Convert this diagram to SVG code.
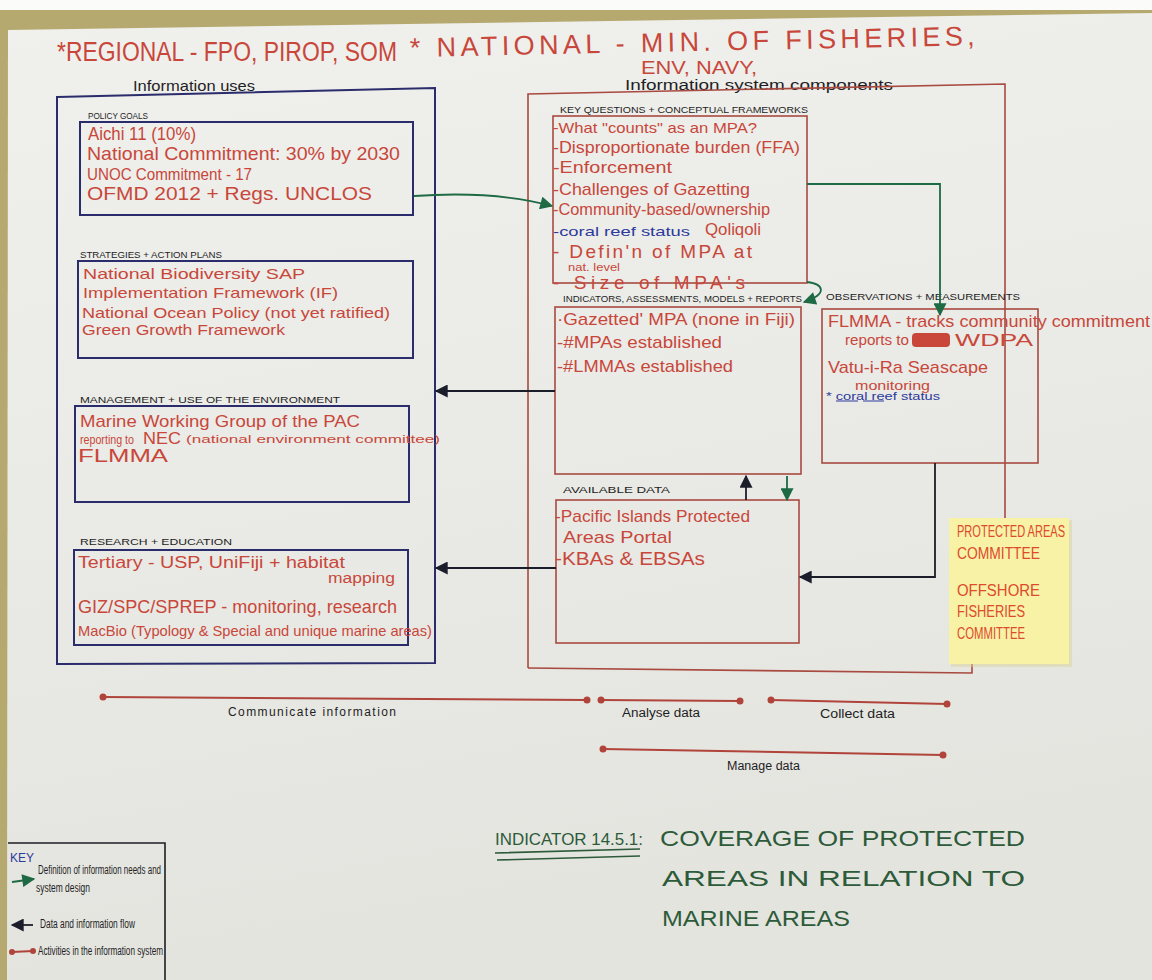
<svg xmlns="http://www.w3.org/2000/svg" width="1152" height="980" viewBox="0 0 1152 980">
  <defs>
    <linearGradient id="paper" x1="0" y1="0" x2="0.2" y2="1">
      <stop offset="0" stop-color="#f0f0ed"/>
      <stop offset="1" stop-color="#e4e4df"/>
    </linearGradient>
    <marker id="ah-green" viewBox="0 0 10 10" refX="9" refY="5" markerUnits="userSpaceOnUse" markerWidth="14" markerHeight="13" orient="auto">
      <path d="M0,0 L10,5 L0,10 z" fill="#1d6a44"/>
    </marker>
    <marker id="ah-black" viewBox="0 0 10 10" refX="9" refY="5" markerUnits="userSpaceOnUse" markerWidth="14" markerHeight="13" orient="auto">
      <path d="M0,0 L10,5 L0,10 z" fill="#1b1d2a"/>
    </marker>
    <style>
      .hand { font-family: "Liberation Sans", "DejaVu Sans", sans-serif; }
      .red { fill: #c8473a; }
      .blue { fill: #2c3a9c; }
      .ink { fill: #1e1e24; }
      .green { fill: #2d5b3a; }
      .body { font-size: 19px; }
      .small { font-size: 15px; }
      .lbl { font-size: 9px; fill: #1e1e24; }
      .box-blue { fill: none; stroke: #2a2c6c; stroke-width: 2; }
      .box-red { fill: none; stroke: #a84a40; stroke-width: 1.6; }
      .flow-green { fill: none; stroke: #1d6a44; stroke-width: 1.8; marker-end: url(#ah-green); }
      .flow-black { fill: none; stroke: #1b1d2a; stroke-width: 1.8; marker-end: url(#ah-black); }
      .act { stroke: #b0443a; stroke-width: 2; fill: none; }
      .dot { fill: #b0443a; }
    </style>
  </defs>

  <!-- backdrop: board edge and paper sheet -->
  <rect x="0" y="0" width="1152" height="980" fill="#fbfbfa"/>
  <rect x="0" y="10" width="1152" height="970" fill="#b6a96f"/>
  <polygon points="8,30 1152,13 1152,980 7,980" fill="url(#paper)"/>

  <!-- heading -->
  <g id="heading" class="hand red">
    <text x="57" y="61" font-size="27" textLength="340" lengthAdjust="spacingAndGlyphs">*REGIONAL - FPO, PIROP, SOM</text>
    <text x="410" y="57" font-size="27" textLength="565" lengthAdjust="spacing" transform="rotate(-1.2 410 57)">* NATIONAL - MIN. OF FISHERIES,</text>
    <text x="641" y="74" font-size="18" textLength="116" lengthAdjust="spacingAndGlyphs">ENV, NAVY,</text>
  </g>

  <!-- Information uses -->
  <g id="information-uses">
    <text class="hand ink" x="133" y="91" font-size="15" textLength="122" lengthAdjust="spacingAndGlyphs">Information uses</text>
    <path class="box-blue" d="M57,97 L435,88 L435,663 L57,664 Z"/>
  </g>

  <g id="policy-goals">
    <text class="hand lbl" x="88" y="119" textLength="60" lengthAdjust="spacingAndGlyphs">POLICY GOALS</text>
    <rect class="box-blue" x="80" y="122" width="333" height="93"/>
    <g class="hand red body">
      <text x="88" y="140" textLength="108" lengthAdjust="spacingAndGlyphs">Aichi 11 (10%)</text>
      <text x="87" y="160" textLength="313" lengthAdjust="spacingAndGlyphs">National Commitment: 30% by 2030</text>
      <text x="87" y="180" font-size="17" textLength="165" lengthAdjust="spacingAndGlyphs">UNOC Commitment - 17</text>
      <text x="87" y="200" textLength="285" lengthAdjust="spacingAndGlyphs">OFMD 2012 + Regs. UNCLOS</text>
    </g>
  </g>

  <g id="strategies">
    <text class="hand lbl" x="80" y="258" textLength="142" lengthAdjust="spacingAndGlyphs">STRATEGIES + ACTION PLANS</text>
    <rect class="box-blue" x="78" y="261" width="335" height="97"/>
    <g class="hand red small">
      <text x="83" y="279" textLength="222" lengthAdjust="spacingAndGlyphs">National Biodiversity SAP</text>
      <text x="83" y="298" textLength="255" lengthAdjust="spacingAndGlyphs">Implementation Framework (IF)</text>
      <text x="82" y="318" textLength="308" lengthAdjust="spacingAndGlyphs">National Ocean Policy (not yet ratified)</text>
      <text x="82" y="335" textLength="203" lengthAdjust="spacingAndGlyphs">Green Growth Framework</text>
    </g>
  </g>

  <g id="management">
    <text class="hand lbl" x="80" y="403" textLength="260" lengthAdjust="spacingAndGlyphs">MANAGEMENT + USE OF THE ENVIRONMENT</text>
    <rect class="box-blue" x="75" y="406" width="334" height="96"/>
    <g class="hand red">
      <text x="80" y="427" font-size="17" textLength="280" lengthAdjust="spacingAndGlyphs">Marine Working Group of the PAC</text>
      <text x="80" y="444" font-size="12" textLength="54" lengthAdjust="spacingAndGlyphs">reporting to</text>
      <text x="143" y="444" font-size="17" textLength="38" lengthAdjust="spacingAndGlyphs">NEC</text>
      <text x="186" y="443" font-size="10" textLength="254" lengthAdjust="spacingAndGlyphs">(national environment committee)</text>
      <text x="78" y="462" font-size="18" textLength="90" lengthAdjust="spacingAndGlyphs">FLMMA</text>
    </g>
  </g>

  <g id="research">
    <text class="hand lbl" x="80" y="545" textLength="152" lengthAdjust="spacingAndGlyphs">RESEARCH + EDUCATION</text>
    <rect class="box-blue" x="74" y="550" width="334" height="95"/>
    <g class="hand red">
      <text x="78" y="568" font-size="16" textLength="267" lengthAdjust="spacingAndGlyphs">Tertiary - USP, UniFiji + habitat</text>
      <text x="328" y="583" font-size="14" textLength="67" lengthAdjust="spacingAndGlyphs">mapping</text>
      <text x="78" y="613" font-size="19" textLength="319" lengthAdjust="spacingAndGlyphs">GIZ/SPC/SPREP - monitoring, research</text>
      <text x="78" y="636" font-size="15" textLength="354" lengthAdjust="spacingAndGlyphs">MacBio (Typology &amp; Special and unique marine areas)</text>
    </g>
  </g>

  <!-- Information system components -->
  <g id="information-system">
    <text class="hand ink" x="625" y="90" font-size="14" textLength="268" lengthAdjust="spacingAndGlyphs">Information system components</text>
    <path class="box-red" d="M528,668 L528,94 L1005,84 L1005,600"/>
    <path class="box-red" d="M528,668 L972,673 L972,660"/>
  </g>

  <g id="key-questions">
    <text class="hand lbl" x="560" y="113" font-size="8" textLength="248" lengthAdjust="spacingAndGlyphs">KEY QUESTIONS + CONCEPTUAL FRAMEWORKS</text>
    <rect class="box-red" x="553" y="116" width="254" height="167"/>
    <g class="hand red">
      <text x="553" y="133" font-size="15" textLength="204" lengthAdjust="spacingAndGlyphs">-What "counts" as an MPA?</text>
      <text x="553" y="153" font-size="17" textLength="247" lengthAdjust="spacingAndGlyphs">-Disproportionate burden (FFA)</text>
      <text x="553" y="173" font-size="17" textLength="119" lengthAdjust="spacingAndGlyphs">-Enforcement</text>
      <text x="553" y="195" font-size="17" textLength="197" lengthAdjust="spacingAndGlyphs">-Challenges of Gazetting</text>
      <text x="553" y="215" font-size="17" textLength="217" lengthAdjust="spacingAndGlyphs">-Community-based/ownership</text>
      <text x="705" y="235" font-size="16" textLength="56" lengthAdjust="spacingAndGlyphs">Qoliqoli</text>
      <text x="553" y="258" font-size="19" textLength="199" lengthAdjust="spacing">- Defin'n of MPA at</text>
      <text x="568" y="271" font-size="10" textLength="52" lengthAdjust="spacingAndGlyphs">nat. level</text>
      <text x="553" y="289" font-size="19" textLength="192" lengthAdjust="spacing">- Size of MPA's</text>
    </g>
    <text class="hand blue" x="553" y="236" font-size="13" textLength="137" lengthAdjust="spacingAndGlyphs">-coral reef status</text>
  </g>

  <g id="indicators">
    <text class="hand lbl" x="563" y="302" font-size="8" textLength="239" lengthAdjust="spacingAndGlyphs">INDICATORS, ASSESSMENTS, MODELS + REPORTS</text>
    <rect class="box-red" x="555" y="307" width="246" height="167"/>
    <g class="hand red">
      <text x="557" y="325" font-size="17" textLength="238" lengthAdjust="spacingAndGlyphs">·Gazetted' MPA (none in Fiji)</text>
      <text x="557" y="348" font-size="17" textLength="165" lengthAdjust="spacingAndGlyphs">-#MPAs established</text>
      <text x="557" y="372" font-size="17" textLength="176" lengthAdjust="spacingAndGlyphs">-#LMMAs established</text>
    </g>
  </g>

  <g id="observations">
    <text class="hand lbl" x="826" y="300" font-size="8" textLength="194" lengthAdjust="spacingAndGlyphs">OBSERVATIONS + MEASUREMENTS</text>
    <rect class="box-red" x="822" y="309" width="216" height="154"/>
    <g class="hand red">
      <text x="828" y="327" font-size="17" textLength="322" lengthAdjust="spacingAndGlyphs">FLMMA - tracks community commitment</text>
      <text x="845" y="345" font-size="15" textLength="64" lengthAdjust="spacingAndGlyphs">reports to</text>
      <rect x="912" y="333" width="38" height="14" rx="4" fill="#c8473a"/>
      <text x="955" y="346" font-size="17" textLength="78" lengthAdjust="spacingAndGlyphs">WDPA</text>
      <text x="828" y="373" font-size="17" textLength="160" lengthAdjust="spacingAndGlyphs">Vatu-i-Ra Seascape</text>
      <text x="855" y="390" font-size="13" textLength="75" lengthAdjust="spacingAndGlyphs">monitoring</text>
    </g>
    <text class="hand blue" x="826" y="400" font-size="10" textLength="114" lengthAdjust="spacingAndGlyphs">* coral reef status</text>
    <path d="M836,401 L858,401 M863,401 L884,401" stroke="#2c3a9c" stroke-width="1.2"/>
  </g>

  <g id="available-data">
    <text class="hand lbl" x="563" y="493" textLength="107" lengthAdjust="spacingAndGlyphs">AVAILABLE DATA</text>
    <rect class="box-red" x="556" y="500" width="243" height="143"/>
    <g class="hand red">
      <text x="555" y="522" font-size="17" textLength="195" lengthAdjust="spacingAndGlyphs">-Pacific Islands Protected</text>
      <text x="563" y="543" font-size="17" textLength="109" lengthAdjust="spacingAndGlyphs">Areas Portal</text>
      <text x="555" y="565" font-size="19" textLength="150" lengthAdjust="spacingAndGlyphs">-KBAs &amp; EBSAs</text>
    </g>
  </g>

  <!-- connectors -->
  <g id="connectors">
    <path class="flow-green" d="M414,196 C470,192 515,196 552,206"/>
    <path class="flow-green" d="M807,184 L940,184 L940,315"/>
    <path class="flow-green" d="M807,282 C824,284 828,294 804,302"/>
    <path class="flow-green" d="M787,476 L787,500"/>
    <path class="flow-black" d="M746,500 L746,476"/>
    <path class="flow-black" d="M555,391 L436,391"/>
    <path class="flow-black" d="M556,568 L436,568"/>
    <path class="flow-black" d="M935,463 L935,577 L800,577"/>
  </g>

  <!-- sticky note -->
  <g id="committees-note">
    <rect x="951" y="520" width="121" height="147" fill="#d9d49a" opacity="0.5"/>
    <rect x="949" y="518" width="120" height="146" fill="#f7f2a6"/>
    <g class="hand" fill="#de4a2c">
      <text x="957" y="537" font-size="16" textLength="108" lengthAdjust="spacingAndGlyphs">PROTECTED AREAS</text>
      <text x="957" y="559" font-size="16" textLength="83" lengthAdjust="spacingAndGlyphs">COMMITTEE</text>
      <text x="957" y="596" font-size="16" textLength="83" lengthAdjust="spacingAndGlyphs">OFFSHORE</text>
      <text x="957" y="617" font-size="16" textLength="68" lengthAdjust="spacingAndGlyphs">FISHERIES</text>
      <text x="957" y="639" font-size="16" textLength="68" lengthAdjust="spacingAndGlyphs">COMMITTEE</text>
    </g>
  </g>

  <!-- activities in the information system -->
  <g id="activities">
    <path class="act" d="M103,697 L587,700"/>
    <circle class="dot" cx="103" cy="697" r="3.5"/><circle class="dot" cx="587" cy="700" r="3.5"/>
    <path class="act" d="M601,700 L740,701"/>
    <circle class="dot" cx="601" cy="700" r="3.5"/><circle class="dot" cx="740" cy="701" r="3.5"/>
    <path class="act" d="M771,700 L947,704"/>
    <circle class="dot" cx="771" cy="700" r="3.5"/><circle class="dot" cx="947" cy="704" r="3.5"/>
    <path class="act" d="M603,749 L943,755"/>
    <circle class="dot" cx="603" cy="749" r="3.5"/><circle class="dot" cx="943" cy="755" r="3.5"/>
    <g class="hand ink" font-size="12">
      <text x="228" y="716" textLength="168" lengthAdjust="spacing">Communicate information</text>
      <text x="622" y="717" textLength="78" lengthAdjust="spacingAndGlyphs">Analyse data</text>
      <text x="820" y="718" textLength="75" lengthAdjust="spacingAndGlyphs">Collect data</text>
      <text x="727" y="770" textLength="73" lengthAdjust="spacingAndGlyphs">Manage data</text>
    </g>
  </g>

  <!-- indicator statement -->
  <g id="indicator-title" class="hand green">
    <text x="495" y="845" font-size="17" textLength="148" lengthAdjust="spacingAndGlyphs">INDICATOR 14.5.1:</text>
    <path d="M495,853 L640,849 M497,860 L640,856" stroke="#2d5b3a" stroke-width="1.6" fill="none"/>
    <text x="660" y="846" font-size="22" textLength="365" lengthAdjust="spacingAndGlyphs">COVERAGE OF PROTECTED</text>
    <text x="662" y="886" font-size="22" textLength="363" lengthAdjust="spacingAndGlyphs">AREAS IN RELATION TO</text>
    <text x="662" y="926" font-size="22" textLength="188" lengthAdjust="spacingAndGlyphs">MARINE AREAS</text>
  </g>

  <!-- key -->
  <g id="key">
    <path d="M8,843 L165,843 L165,980" fill="none" stroke="#1e1e24" stroke-width="1.6"/>
    <text class="hand blue" x="10" y="862" font-size="12" textLength="24" lengthAdjust="spacingAndGlyphs">KEY</text>
    <path class="flow-green" d="M12,882 L34,879"/>
    <path class="flow-black" d="M33,925 L12,925"/>
    <path class="act" d="M12,952 L33,951"/>
    <circle class="dot" cx="12" cy="952" r="3"/><circle class="dot" cx="33" cy="951" r="3"/>
    <g class="hand ink" font-size="12">
      <text x="38" y="874" textLength="123" lengthAdjust="spacingAndGlyphs">Definition of information needs and</text>
      <text x="36" y="892" textLength="54" lengthAdjust="spacingAndGlyphs">system design</text>
      <text x="40" y="928" textLength="95" lengthAdjust="spacingAndGlyphs">Data and information flow</text>
      <text x="38" y="955" textLength="125" lengthAdjust="spacingAndGlyphs">Activities in the information system</text>
    </g>
  </g>
</svg>
